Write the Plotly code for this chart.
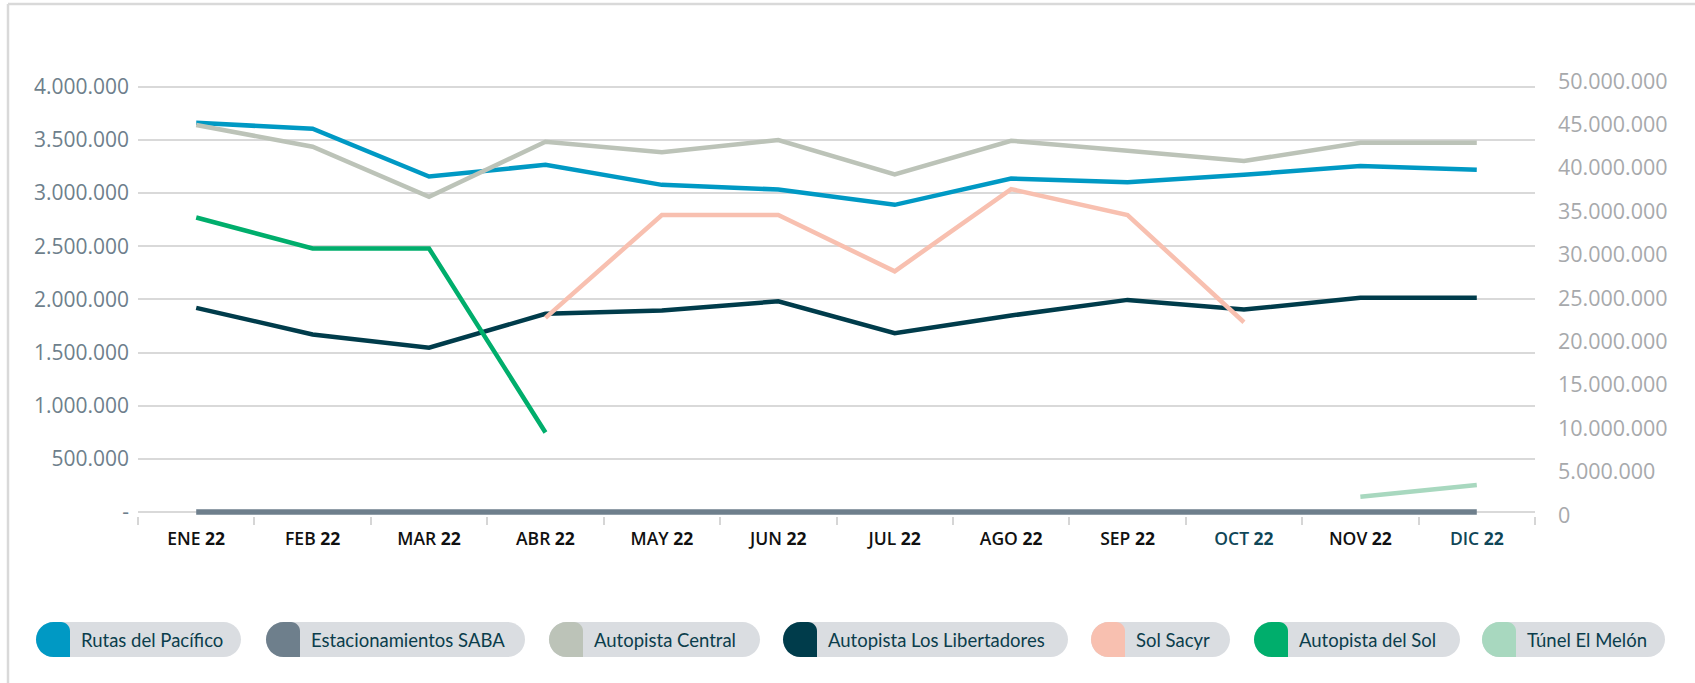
import plotly.graph_objects as go

# ---------------- data ----------------
months = ["ENE", "FEB", "MAR", "ABR", "MAY", "JUN", "JUL", "AGO", "SEP", "OCT", "NOV", "DIC"]
year = "22"

rutas_pacifico = [3660000, 3605000, 3155000, 3265000, 3077000, 3033000, 2889000, 3136000, 3102000, 3171000, 3255000, 3220000]
estacionamientos_saba = [0, 0, 0, 0, 0, 0, 0, 0, 0, 0, 0, 0]
autopista_central = [44930000, 42430000, 36670000, 43000000, 41790000, 43200000, 39250000, 43120000, 41970000, 40780000, 42890000, 42890000]  # right axis
los_libertadores = [1920000, 1670000, 1545000, 1864000, 1895000, 1982000, 1682000, 1848000, 1995000, 1904000, 2014000, 2014000]
sol_sacyr = [None, None, None, 1826000, 2793000, 2793000, 2264000, 3037000, 2793000, 1785000, None, None]
autopista_del_sol = [2770000, 2479000, 2479000, 748000, None, None, None, None, None, None, None, None]
tunel_el_melon = [None, None, None, None, None, None, None, None, None, None, 144000, 253000]

left_ticks = [0, 500000, 1000000, 1500000, 2000000, 2500000, 3000000, 3500000, 4000000]
left_labels = ["-", "500.000", "1.000.000", "1.500.000", "2.000.000", "2.500.000", "3.000.000", "3.500.000", "4.000.000"]
right_ticks = [0, 5000000, 10000000, 15000000, 20000000, 25000000, 30000000, 35000000, 40000000, 45000000, 50000000]
right_labels = ["0", "5.000.000", "10.000.000", "15.000.000", "20.000.000", "25.000.000", "30.000.000", "35.000.000", "40.000.000", "45.000.000", "50.000.000"]

series_names = ["Rutas del Pacífico", "Estacionamientos SABA", "Autopista Central", "Autopista Los Libertadores",
                "Sol Sacyr", "Autopista del Sol", "Túnel El Melón"]
series_colors = ["#0099c4", "#6e7f8c", "#bcc3b8", "#003c4b", "#f8c0b0", "#00ae6c", "#a8d8bf"]

# ---------------- layout geometry (px) ----------------
W, H = 1695, 683
PL, PR, PT, PB = 138, 1535, 78, 516

def px_x(x):
    return (x - PL) / (PR - PL)

def px_y(y):
    return (PB - y) / (PB - PT)

fig = go.Figure()

highlight = {"OCT", "DIC"}
ticktext = []
for m in months:
    if m in highlight:
        ticktext.append(f"<span style='color:#0f4657'>{m} <b>{year}</b></span>")
    else:
        ticktext.append(f"{m} <b>{year}</b>")

def add(name, values, color, width=4.5, axis="y"):
    fig.add_trace(go.Scatter(x=months, y=values, name=name, mode="lines",
                             line=dict(color=color, width=width), yaxis=axis,
                             connectgaps=False, showlegend=False, hoverinfo="skip"))

add(series_names[1], estacionamientos_saba, series_colors[1], width=5.5)
add(series_names[2], autopista_central, series_colors[2], axis="y2")
add(series_names[0], rutas_pacifico, series_colors[0])
add(series_names[3], los_libertadores, series_colors[3])
add(series_names[4], sol_sacyr, series_colors[4])
add(series_names[5], autopista_del_sol, series_colors[5])
add(series_names[6], tunel_el_melon, series_colors[6])

per_px_left = 500000 / 53.16
per_px_right = 5000000 / 43.4
left_range = [-(PB - 512) * per_px_left, (512 - PT) * per_px_left]
right_range = [-(PB - 515) * per_px_right, (515 - PT) * per_px_right]

fig.update_layout(
    width=W, height=H,
    margin=dict(l=PL, r=W - PR, t=PT, b=H - PB, pad=0),
    paper_bgcolor="white", plot_bgcolor="white",
    font=dict(family="Open Sans", color="#6e7f8c"),
    xaxis=dict(type="category", categoryorder="array", categoryarray=months,
               range=[-0.5, 11.5], tickmode="array", tickvals=months, ticktext=ticktext,
               tickson="boundaries", ticks="outside", ticklen=8, tickwidth=2, tickcolor="#d6d6d6",
               showgrid=False, showline=False, zeroline=False, ticklabelstandoff=10,
               tickfont=dict(family="Open Sans", size=17.5, color="#111111", weight=600)),
    yaxis=dict(range=left_range, tickmode="array", tickvals=left_ticks, ticktext=left_labels,
               showgrid=True, gridcolor="#d9d9d9", gridwidth=2, zeroline=False, showline=False,
               ticks="", ticklabelstandoff=8,
               tickfont=dict(family="Open Sans", size=21, color="#6e7f8c")),
    yaxis2=dict(range=right_range, overlaying="y", side="right", tickmode="array",
                tickvals=right_ticks, ticktext=right_labels, showgrid=False, zeroline=False,
                showline=False, ticks="", ticklabelstandoff=22,
                tickfont=dict(family="Open Sans", size=21.5, color="#a7a9ac")),
)

shapes = []
# outer frame
shapes.append(dict(type="line", xref="paper", yref="paper", x0=px_x(8), x1=px_x(W + 5), y0=px_y(4), y1=px_y(4),
                   line=dict(color="#d9d9d9", width=2.5), layer="below"))
shapes.append(dict(type="line", xref="paper", yref="paper", x0=px_x(8), x1=px_x(8), y0=px_y(4), y1=px_y(H + 5),
                   line=dict(color="#d9d9d9", width=2.5), layer="below"))

# custom legend pills
pill_x = [(36, 241), (266, 525), (549, 760), (783, 1068), (1091, 1230), (1254, 1460), (1482, 1665)]
pill_top, pill_bot = 622, 657
cap_w = 34
K = 0.5523

def P(x, y):
    return f"{px_x(x):.6f},{px_y(y):.6f}"

def pill_path(x0, x1, t, b):
    r = (b - t) / 2
    k = r * K
    return (f"M{P(x0 + r, t)} L{P(x1 - r, t)} "
            f"C{P(x1 - r + k, t)} {P(x1, t + r - k)} {P(x1, t + r)} "
            f"C{P(x1, t + r + k)} {P(x1 - r + k, b)} {P(x1 - r, b)} "
            f"L{P(x0 + r, b)} "
            f"C{P(x0 + r - k, b)} {P(x0, b - r + k)} {P(x0, b - r)} "
            f"C{P(x0, t + r - k)} {P(x0 + r - k, t)} {P(x0 + r, t)} Z")

def cap_path(x0, xc, t, b):
    r = (b - t) / 2
    k = r * K
    r2 = 9
    k2 = r2 * K
    return (f"M{P(x0 + r, t)} L{P(xc - r2, t)} "
            f"C{P(xc - r2 + k2, t)} {P(xc, t + r2 - k2)} {P(xc, t + r2)} "
            f"L{P(xc, b)} L{P(x0 + r, b)} "
            f"C{P(x0 + r - k, b)} {P(x0, b - r + k)} {P(x0, b - r)} "
            f"C{P(x0, t + r - k)} {P(x0 + r - k, t)} {P(x0 + r, t)} Z")

annotations = []
for (x0, x1), name, col in zip(pill_x, series_names, series_colors):
    shapes.append(dict(type="path", xref="paper", yref="paper", path=pill_path(x0, x1, pill_top, pill_bot),
                       fillcolor="#dadde1", line=dict(width=0), layer="below"))
    shapes.append(dict(type="path", xref="paper", yref="paper", path=cap_path(x0, x0 + cap_w, pill_top, pill_bot),
                       fillcolor=col, line=dict(width=0), layer="below"))
    annotations.append(dict(xref="paper", yref="paper", x=px_x(x0 + cap_w + 9), y=px_y((pill_top + pill_bot) / 2),
                            xanchor="left", yanchor="middle", text=name, showarrow=False,
                            font=dict(family="Lato", size=18.5, color="#0b3d4c")))

fig.update_layout(shapes=shapes, annotations=annotations)

fig.write_html("out.html", config={"displayModeBar": False},
               post_script="document.body.style.margin='0';document.body.style.overflow='hidden';")
